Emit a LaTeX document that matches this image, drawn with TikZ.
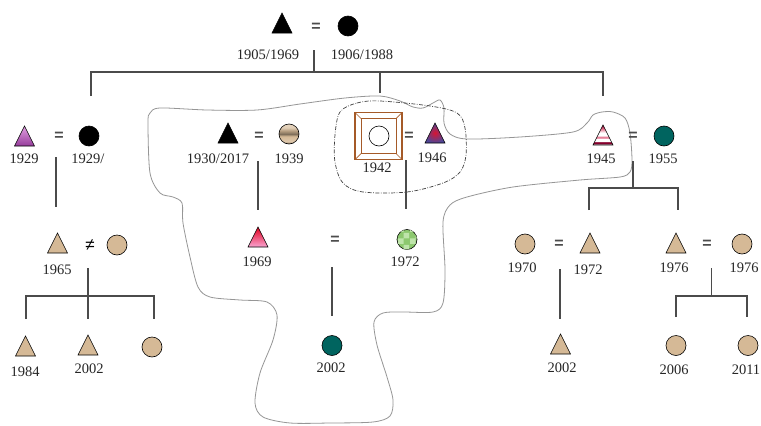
\documentclass[tikz,border=0pt]{standalone}
\usepackage{fontspec}
\setmainfont{Liberation Serif}
\newfontfamily\eqfont{Liberation Sans}
\usetikzlibrary{shapes.geometric,patterns}
\definecolor{tan}{RGB}{213,185,150}
\definecolor{teal1}{RGB}{0,100,95}
\definecolor{boxbrown}{RGB}{165,90,40}
\definecolor{linkc}{RGB}{75,75,75}
\definecolor{wavec}{RGB}{150,150,150}
\definecolor{greenA}{RGB}{140,200,110}
\definecolor{greenB}{RGB}{190,228,170}
\pgfdeclareverticalshading{shadeA}{100bp}{color(0bp)=(white); color(25bp)=(white); color(27bp)=(white);
  color(28bp)=(purple!70!black); color(32bp)=(purple!70!black); color(35bp)=(white); color(40bp)=(white);
  color(44bp)=(purple!50!pink); color(49bp)=(white); color(56bp)=(white); color(66bp)=(purple!45!pink);
  color(75bp)=(purple!70!black); color(100bp)=(purple!70!black)}
\pgfdeclareverticalshading{shadeB}{100bp}{color(0bp)=(tan!60!black); color(25bp)=(tan!70!black);
  color(32bp)=(tan!80!white); color(44bp)=(tan); color(50bp)=(tan!60!black); color(58bp)=(tan!85!black);
  color(66bp)=(tan!70!white); color(75bp)=(tan!60!white); color(100bp)=(tan!60!white)}
\tikzset{
  person/.style={draw=black, line width=0.6pt, inner sep=0pt, outer sep=0pt},
  tri/.style={person, isosceles triangle, isosceles triangle stretches, shape border rotate=90,
    minimum width=20pt, minimum height=20pt, anchor=south},
  circ/.style={person, circle, minimum size=20pt},
  yr/.style={font=\fontsize{14.5}{16}\selectfont, text height=9.8pt, text depth=0pt, inner sep=0pt, text=black!85},
  eqs/.style={font=\eqfont\bfseries\fontsize{16}{18}\selectfont, inner sep=0pt, text=black!70},
  link/.style={draw=linkc, line width=1.1pt},
  wave/.style={draw=wavec, line width=0.8pt},
  dashdot/.style={draw=black!75, line width=0.7pt, dash pattern=on 4pt off 1.5pt on 0.8pt off 1.5pt},
  boxline/.style={draw=boxbrown, line width=0.7pt}
}
\begin{document}
\begin{tikzpicture}[x=1pt,y=-1pt]
\useasboundingbox[fill=white] (0,0) rectangle (761,426);

% outlines
\draw[wave] plot[smooth cycle, tension=0.5] coordinates {
 (150,113) (160,108) (207,110) (257,110) (300,104) (345,98) (380,96) (400,101) (413,107) (423,108)
 (433,103) (440,100) (444,108) (444,123) (450,134) (467,139) (520,137) (573,132) (587,123) (593,115)
 (602,112) (613,112) (625,118) (630,133) (632,160) (630,172) (620,177) (580,180) (513,187) (467,197)
 (450,205) (443,222) (445,270) (443,303) (433,312) (403,312) (383,313) (374,322) (377,345) (387,377)
 (393,400) (390,416) (373,422) (330,423) (290,423) (263,417) (255,403) (260,373) (273,340) (277,315)
 (267,302) (240,300) (210,297) (198,287) (190,257) (183,223) (182,203) (173,197) (160,193) (150,173)
 (148,123)};
\draw[dashdot] plot[smooth cycle, tension=0.55] coordinates {
 (340,112) (357,103) (380,101) (430,106) (457,113) (465,128) (466,155) (460,172) (443,183) (407,192)
 (363,192) (343,183) (335,162) (335,135)};

% generation 1
\node[tri, fill=black] (g1m) at (282,33) {};
\node[eqs] (e1) at (316,27) {=};
\node[circ, fill=black] (g1f) at (348,26) {};
\node[yr] (l1m) at (268,55) {1905/1969};
\node[yr] (l1f) at (362,55) {1906/1988};

% generation 2
\node[tri, top color={rgb,255:red,225;green,160;blue,225}, bottom color={rgb,255:red,150;green,60;blue,155}] (p1929) at (24.5,146) {};
\node[eqs] (e2) at (59,136) {=};
\node[circ, fill=black] (p1929f) at (89,136) {};
\node[yr] (l1929) at (24,159) {1929};
\node[yr] (l1929f) at (88,159) {1929/};

\node[tri, fill=black] (p1930) at (228,143) {};
\node[eqs] (e3) at (259,136) {=};
\node[circ, shading=shadeB] (p1939) at (289,134) {};
\node[yr] (l1930) at (218,159) {1930/2017};
\node[yr] (l1939) at (289,159) {1939};

\node[draw=boxbrown, line width=1.1pt, minimum size=47pt, inner sep=0pt, outer sep=0pt] (box) at (378.5,136) {};
\draw[boxline] ([shift={(6pt,-6pt)}]box.north west) rectangle ([shift={(-6pt,6pt)}]box.south east);
\draw[boxline] (box.north west) -- ([shift={(6pt,-6pt)}]box.north west);
\draw[boxline] (box.north east) -- ([shift={(-6pt,-6pt)}]box.north east);
\draw[boxline] (box.south west) -- ([shift={(6pt,6pt)}]box.south west);
\draw[boxline] (box.south east) -- ([shift={(-6pt,6pt)}]box.south east);
\node[circ, fill=white] (p1942) at (379,136) {};
\node[eqs] (e4) at (409,136) {=};
\node[tri, shading=radial, inner color={rgb,255:red,215;green,20;blue,50}, outer color={rgb,255:red,80;green,70;blue,150}] (p1946) at (435,143) {};
\node[yr] (l1942) at (377,168) {1942};
\node[yr] (l1946) at (432,158) {1946};

\node[tri, shading=shadeA] (p1945) at (603,145) {};
\node[eqs] (e5) at (633,136) {=};
\node[circ, fill=teal1] (p1955) at (664,136) {};
\node[yr] (l1945) at (601,159) {1945};
\node[yr] (l1955) at (663,159) {1955};

% generation 3
\node[tri, fill=tan] (p1965) at (57.5,253) {};
\node[font=\eqfont\fontsize{17}{18}\selectfont, inner sep=0pt, text=black] (ne) at (90,245) {≠};
\node[circ, fill=tan] (p1965f) at (117,245) {};
\node[yr] (l1965) at (57,270) {1965};

\node[tri, top color={rgb,255:red,225;green,0;blue,30}, bottom color={rgb,255:red,250;green,165;blue,210}] (p1969) at (258,247) {};
\node[yr] (l1969) at (257,262) {1969};
\node[eqs] (e6) at (335,240) {=};
\node[circ, fill=greenA, postaction={pattern=checkerboard, pattern color=greenB}] (p1972g) at (407,239.5) {};
\node[yr] (l1972g) at (405,262) {1972};

\node[circ, fill=tan] (p1970) at (525,244) {};
\node[eqs] (e7) at (559,244) {=};
\node[tri, fill=tan] (p1972) at (590,253) {};
\node[yr] (l1970) at (522,268) {1970};
\node[yr] (l1972) at (588,270) {1972};

\node[tri, fill=tan] (p1976) at (676,253) {};
\node[eqs] (e8) at (707,244) {=};
\node[circ, fill=tan] (p1976f) at (742,244) {};
\node[yr] (l1976) at (674,268) {1976};
\node[yr] (l1976f) at (744,268) {1976};

% generation 4
\node[tri, fill=tan] (p1984) at (25.5,356) {};
\node[yr] (l1984) at (25,372) {1984};
\node[tri, fill=tan] (p2002a) at (88,355) {};
\node[yr] (l2002a) at (89,369) {2002};
\node[circ, fill=tan] (p4c) at (152,347) {};
\node[circ, fill=teal1] (p2002b) at (332,345.5) {};
\node[yr] (l2002b) at (331,368) {2002};
\node[tri, fill=tan] (p2002c) at (560.5,354) {};
\node[yr] (l2002c) at (562,368) {2002};
\node[circ, fill=tan] (p2006) at (676,345.5) {};
\node[yr] (l2006) at (674,370) {2006};
\node[circ, fill=tan] (p2011) at (748,345.5) {};
\node[yr] (l2011) at (746,370) {2011};

% connectors
\coordinate (a0) at (314,50); \coordinate (a1) at (314,72);
\coordinate (hl) at (91,72); \coordinate (hm) at (380,72); \coordinate (hr) at (603,72);
\coordinate (dl) at (91,96); \coordinate (dm) at (380,93); \coordinate (dr) at (603,96);
\draw[link] (a0) -- (a1);
\draw[link] (dl) -- (hl) -- (hr) -- (dr);
\draw[link] (hm) -- (dm);

\coordinate (b0) at (56,157); \coordinate (b1) at (56,207);
\draw[link] (b0) -- (b1);
\coordinate (c0) at (258,161); \coordinate (c1) at (258,210);
\draw[link] (c0) -- (c1);
\coordinate (f0) at (406,160); \coordinate (f1) at (406,209);
\draw[link] (f0) -- (f1);
\coordinate (g0) at (633,161); \coordinate (g1) at (633,188);
\coordinate (gl) at (589,188); \coordinate (gr) at (678,188);
\coordinate (gl1) at (589,210); \coordinate (gr1) at (678,210);
\draw[link] (g0) -- (g1);
\draw[link] (gl1) -- (gl) -- (gr) -- (gr1);

\coordinate (k0) at (88,268); \coordinate (k1) at (88,296);
\coordinate (kl) at (26,296); \coordinate (kr) at (154,296);
\coordinate (kl1) at (26,319); \coordinate (km1) at (88,319); \coordinate (kr1) at (154,319);
\draw[link] (k0) -- (km1);
\draw[link] (kl1) -- (kl) -- (kr) -- (kr1);

\coordinate (m0) at (332,267); \coordinate (m1) at (332,316);
\draw[link] (m0) -- (m1);
\coordinate (n0) at (560,269); \coordinate (n1) at (560,319);
\draw[link] (n0) -- (n1);
\coordinate (q0) at (711.5,268); \coordinate (q1) at (711.5,296);
\coordinate (ql) at (676,296); \coordinate (qr) at (747,296);
\coordinate (ql1) at (676,317); \coordinate (qr1) at (747,317);
\draw[link] (q0) -- (q1);
\draw[link] (ql1) -- (ql) -- (qr) -- (qr1);
\end{tikzpicture}
\end{document}
